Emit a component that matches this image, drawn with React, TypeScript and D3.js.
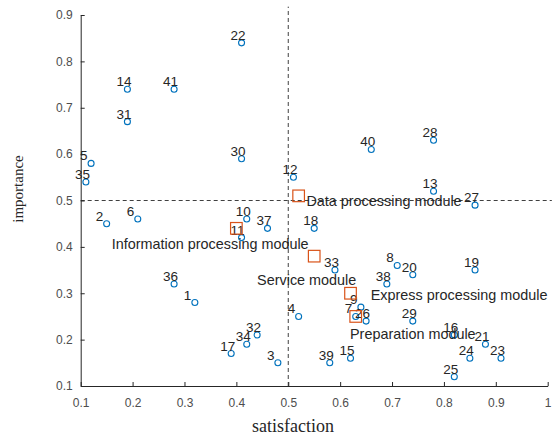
import { useEffect, useRef } from "react";
import * as d3 from "d3";

// satisfaction / importance of each numbered item
const itemIds = [
  1, 2, 3, 4, 5, 6, 7, 8, 9, 10, 11, 12, 13, 14, 15, 16, 17, 18, 19, 20, 21,
  22, 23, 24, 25, 26, 27, 28, 29, 30, 31, 32, 33, 34, 35, 36, 37, 38, 39, 40, 41,
];
const satisfaction = [
  0.32, 0.15, 0.48, 0.52, 0.12, 0.21, 0.63, 0.71, 0.64, 0.42, 0.41, 0.51, 0.78,
  0.19, 0.62, 0.82, 0.39, 0.55, 0.86, 0.74, 0.88, 0.41, 0.91, 0.85, 0.82, 0.65,
  0.86, 0.78, 0.74, 0.41, 0.19, 0.44, 0.59, 0.42, 0.11, 0.28, 0.46, 0.69, 0.58,
  0.66, 0.28,
];
const importance = [
  0.28, 0.45, 0.15, 0.25, 0.58, 0.46, 0.25, 0.36, 0.27, 0.46, 0.42, 0.55, 0.52,
  0.74, 0.16, 0.21, 0.17, 0.44, 0.35, 0.34, 0.19, 0.84, 0.16, 0.16, 0.12, 0.24,
  0.49, 0.63, 0.24, 0.59, 0.67, 0.21, 0.35, 0.19, 0.54, 0.32, 0.44, 0.32, 0.15,
  0.61, 0.74,
];

// module averages
const moduleNames = [
  "Data processing module",
  "Information processing module",
  "Service module",
  "Express processing module",
  "Preparation module",
];
const moduleSatisfaction = [0.52, 0.4, 0.55, 0.62, 0.63];
const moduleImportance = [0.51, 0.44, 0.38, 0.3, 0.25];
// where the module text sits (data units)
const moduleLabelX = [0.535, 0.16, 0.44, 0.659, 0.619];
const moduleLabelY = [0.498, 0.406, 0.329, 0.297, 0.213];

const xTicks = [0.1, 0.2, 0.3, 0.4, 0.5, 0.6, 0.7, 0.8, 0.9, 1];
const yTicks = [0.1, 0.2, 0.3, 0.4, 0.5, 0.6, 0.7, 0.8, 0.9];
const xSplit = 0.5;
const ySplit = 0.5;

const SANS = "'Liberation Sans', Arial, Helvetica, sans-serif";
const SERIF = "'Liberation Serif', 'Times New Roman', serif";

const App = () => {
  const svgRef = useRef<SVGSVGElement | null>(null);

  useEffect(() => {
    const W = 555;
    const H = 439;

    const x = d3.scaleLinear().domain([0.1, 1]).range([80.7, 547.7]);
    const y = d3.scaleLinear().domain([0.1, 0.9]).range([386, 15]);

    const svg = d3.select(svgRef.current).attr("width", W).attr("height", H);
    svg.selectAll("*").remove();

    // quadrant split lines
    svg
      .append("line")
      .attr("x1", x(xSplit))
      .attr("x2", x(xSplit))
      .attr("y1", y(0.1))
      .attr("y2", y(0.918))
      .attr("stroke", "#404040")
      .attr("stroke-dasharray", "4,3");
    svg
      .append("line")
      .attr("x1", x(0.1))
      .attr("x2", x(1.008))
      .attr("y1", y(ySplit))
      .attr("y2", y(ySplit))
      .attr("stroke", "#404040")
      .attr("stroke-dasharray", "4,3");

    // axes (MATLAB style, ticks inward)
    const xAxis = svg
      .append("g")
      .attr("transform", `translate(0,${y(0.1)})`)
      .call(
        d3
          .axisBottom(x)
          .tickValues(xTicks)
          .tickSize(-4)
          .tickSizeOuter(0)
          .tickPadding(12)
          .tickFormat((d) => d3.format("")(+d))
      );
    const yAxis = svg
      .append("g")
      .attr("transform", `translate(${x(0.1)},0)`)
      .call(
        d3
          .axisLeft(y)
          .tickValues(yTicks)
          .tickSize(-4)
          .tickSizeOuter(0)
          .tickPadding(8)
          .tickFormat((d) => d3.format("")(+d))
      );
    [xAxis, yAxis].forEach((g) => {
      g.select(".domain").attr("stroke", "#262626");
      g.selectAll(".tick line").attr("stroke", "#262626");
      g.selectAll(".tick text")
        .attr("fill", "#4d4d4d")
        .style("font-family", SANS)
        .style("font-size", "12px");
    });

    // numbered items
    const items = itemIds.map((id, i) => ({
      id,
      s: satisfaction[i],
      imp: importance[i],
    }));

    svg
      .selectAll(".pt")
      .data(items)
      .enter()
      .append("circle")
      .classed("pt", true)
      .attr("cx", (d) => x(d.s))
      .attr("cy", (d) => y(d.imp))
      .attr("r", 3)
      .attr("fill", "none")
      .attr("stroke", "#0072BD")
      .attr("stroke-width", 1.1);

    svg
      .selectAll(".pt-label")
      .data(items)
      .enter()
      .append("text")
      .classed("pt-label", true)
      .text((d) => d.id)
      .attr("x", (d) => x(d.s) - 11)
      .attr("y", (d) => y(d.imp) - 3)
      .attr("fill", "#262626")
      .style("font-family", SANS)
      .style("font-size", "13.5px");

    // modules
    const modules = moduleNames.map((name, i) => ({
      name,
      s: moduleSatisfaction[i],
      imp: moduleImportance[i],
      lx: moduleLabelX[i],
      ly: moduleLabelY[i],
    }));

    svg
      .selectAll(".mod")
      .data(modules)
      .enter()
      .append("rect")
      .classed("mod", true)
      .attr("x", (d) => x(d.s) - 5.8)
      .attr("y", (d) => y(d.imp) - 5.8)
      .attr("width", 11.6)
      .attr("height", 11.6)
      .attr("fill", "none")
      .attr("stroke", "#D95319")
      .attr("stroke-width", 1.2);

    svg
      .selectAll(".mod-label")
      .data(modules)
      .enter()
      .append("text")
      .classed("mod-label", true)
      .text((d) => d.name)
      .attr("x", (d) => x(d.lx))
      .attr("y", (d) => y(d.ly))
      .attr("dy", "0.35em")
      .attr("fill", "#262626")
      .style("font-family", SANS)
      .style("font-size", "14.4px");

    // axis titles
    svg
      .append("text")
      .text("satisfaction")
      .attr("x", 293)
      .attr("y", 432)
      .attr("text-anchor", "middle")
      .attr("fill", "#262626")
      .style("font-family", SERIF)
      .style("font-size", "18px");
    svg
      .append("text")
      .text("importance")
      .attr("transform", "translate(23,189) rotate(-90)")
      .attr("text-anchor", "middle")
      .attr("fill", "#262626")
      .style("font-family", SERIF)
      .style("font-size", "15px");
  }, []);

  return (
    <svg
      ref={svgRef}
      style={{ position: "absolute", left: 0, top: 0, background: "#fff" }}
    />
  );
};

export default App;
